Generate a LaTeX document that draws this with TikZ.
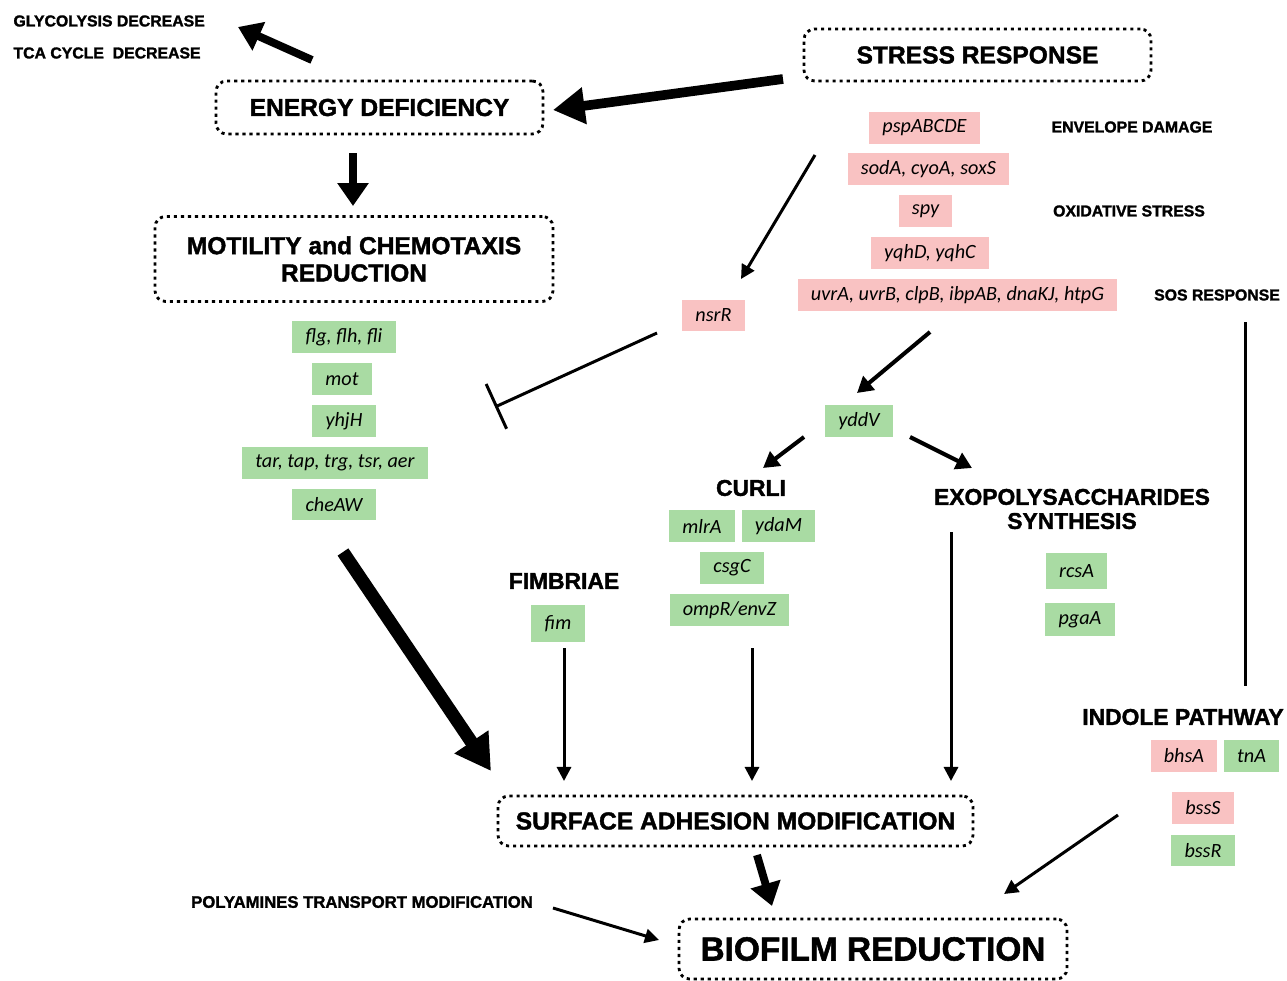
\documentclass[tikz,border=0pt]{standalone}
\usepackage{fontspec}
\setmainfont{Carlito}
\newfontfamily\headfont{Liberation Sans}[BoldFeatures={FakeBold=1.6}]
\usetikzlibrary{arrows.meta}

\begin{document}
\begin{tikzpicture}[x=0.02cm, y=-0.02cm, line width=1.7pt,
    stage/.style={draw, dash pattern=on 1.8pt off 2.2pt, line width=1.6pt, rounded corners=6pt,
      font=\headfont\bfseries\fontsize{14}{15.5}\selectfont, align=center, inner sep=0pt},
    head/.style={font=\headfont\bfseries\fontsize{13}{13.7}\selectfont, align=center, inner sep=0pt},
    note/.style={font=\headfont\bfseries\fontsize{9}{11}\selectfont, inner sep=0pt},
    gene/.style={font=\itshape\fontsize{11.5}{13}\selectfont, minimum height=18pt, inner xsep=7.5pt, inner ysep=0pt},
    upgene/.style={gene, fill=upcolor},
    downgene/.style={gene, fill=downcolor},
    link/.style={-{Triangle[length=8pt,width=8pt]}, line width=1.7pt},
    midlink/.style={-{Triangle[length=9pt,width=10pt]}, line width=2.3pt},
    boldlink/.style={-{Triangle[length=13pt,width=17pt]}, line width=4.5pt},
    biglink/.style={-{Triangle[length=18pt,width=20pt]}, line width=5.5pt},
    hugelink/.style={-{Triangle[length=20pt,width=22pt]}, line width=7.4pt}]
    \definecolor{upcolor}{RGB}{249,194,194}
    \definecolor{downcolor}{RGB}{169,219,163}

    \useasboundingbox (0,0) rectangle (1287,980);

    % boxes
    \node[stage, minimum width=6.54cm, minimum height=1.06cm] (energy) at (379.5,107.5) {ENERGY DEFICIENCY};
    \node[stage, minimum width=6.94cm, minimum height=1.04cm] (stress) at (977.5,55) {STRESS RESPONSE};
    \node[stage, minimum width=7.96cm, minimum height=1.7cm] (motility) at (354,259) {MOTILITY and CHEMOTAXIS\\REDUCTION};
    \node[stage, minimum width=9.5cm, minimum height=1.0cm] (surface) at (735.5,821) {SURFACE ADHESION MODIFICATION};
    \node[stage, minimum width=7.76cm, minimum height=1.2cm, font=\headfont\bfseries\fontsize{19}{21}\selectfont] (biofilm) at (873,949) {BIOFILM REDUCTION};

    \node[note, anchor=west] (glyco) at (12,21) {GLYCOLYSIS DECREASE};
    \node[note, anchor=west] (tca) at (12,53) {TCA CYCLE\ \ DECREASE};
    \node[note] (envelope) at (1132,127) {ENVELOPE DAMAGE};
    \node[note] (oxidative) at (1129,211) {OXIDATIVE STRESS};
    \node[note] (sos) at (1217,295) {SOS RESPONSE};
    \node[note, font=\headfont\bfseries\fontsize{9.5}{11}\selectfont] (polyamines) at (362,902) {POLYAMINES TRANSPORT MODIFICATION};

    \node[head] (curli) at (751,488) {CURLI};
    \node[head] (fimbriae) at (564,581) {FIMBRIAE};
    \node[head] (exo) at (1072,509) {EXOPOLYSACCHARIDES\\SYNTHESIS};
    \node[head] (indole) at (1183,717) {INDOLE PATHWAY};

    % genes
    \node[downgene] (flg) at (344,337) {flg, flh, fli};
    \node[downgene] (mot) at (342,379) {mot};
    \node[downgene] (yhjH) at (344,421) {yhjH};
    \node[downgene] (tar) at (335,463) {tar, tap, trg, tsr, aer};
    \node[downgene] (cheAW) at (334,504.5) {cheAW};

    \node[upgene] (psp) at (924.5,128) {pspABCDE};
    \node[upgene] (sod) at (928.5,169) {sodA, cyoA, soxS};
    \node[upgene] (spy) at (925.5,211) {spy};
    \node[upgene] (yqh) at (930,253) {yqhD, yqhC};
    \node[upgene] (uvr) at (957.5,295) {uvrA, uvrB, clpB, ibpAB, dnaKJ, htpG};
    \node[upgene] (nsrR) at (713.5,315.5) {nsrR};

    \node[downgene] (yddV) at (859,421) {yddV};
    \node[downgene] (mlrA) at (702,526) {mlrA};
    \node[downgene] (ydaM) at (778.5,526) {ydaM};
    \node[downgene] (csgC) at (732,568) {csgC};
    \node[downgene] (ompR) at (729.5,610) {ompR/envZ};
    \node[downgene, minimum height=21pt] (fim) at (558,623.5) {fim};
    \node[downgene, minimum height=20pt] (rcsA) at (1076.5,571) {rcsA};
    \node[downgene, minimum height=19pt] (pgaA) at (1080,619.5) {pgaA};

    \node[upgene] (bhsA) at (1184,756) {bhsA};
    \node[downgene] (tnA) at (1251.5,756) {tnA};
    \node[upgene] (bssS) at (1203,808) {bssS};
    \node[downgene] (bssR) at (1203,850.5) {bssR};

    % connector ends
    \coordinate (glyco-s) at (312,60);
    \coordinate (glyco-e) at (238,27);
    \coordinate (stress-s) at (783,79);
    \coordinate (stress-e) at (553,110);
    \coordinate (energy-s) at (353,153);
    \coordinate (energy-e) at (353,206);
    \coordinate (nsr-s) at (815,155);
    \coordinate (nsr-e) at (741,279);
    \coordinate (block-s) at (657,333);
    \coordinate (block-e) at (495,407);
    \coordinate (yddv-s) at (930,332);
    \coordinate (yddv-e) at (857,393);
    \coordinate (curli-s) at (804,437);
    \coordinate (curli-e) at (763,468);
    \coordinate (exo-s) at (910,437);
    \coordinate (exo-e) at (972,468);
    \coordinate (mot-s) at (343,552);
    \coordinate (mot-e) at (491,771);
    \coordinate (fim-s) at (564,648);
    \coordinate (fim-e) at (564,781);
    \coordinate (csg-s) at (752,648);
    \coordinate (csg-e) at (752,781);
    \coordinate (eps-s) at (951,532);
    \coordinate (eps-e) at (951,781);
    \coordinate (sos-s) at (1245,322);
    \coordinate (sos-e) at (1245,686);
    \coordinate (ind-s) at (1118,815);
    \coordinate (ind-e) at (1004,894);
    \coordinate (sur-s) at (757,855);
    \coordinate (sur-e) at (772,906);
    \coordinate (pol-s) at (553,908);
    \coordinate (pol-e) at (659,940);

    \draw[boldlink] (glyco-s) -- (glyco-e);
    \draw[biglink] (stress-s) -- (stress-e);
    \draw[boldlink] (energy-s) -- (energy-e);
    \draw[link] (nsr-s) -- (nsr-e);
    \draw[-{Bar[width=28pt]}] (block-s) -- (block-e);
    \draw[midlink] (yddv-s) -- (yddv-e);
    \draw[midlink] (curli-s) -- (curli-e);
    \draw[midlink] (exo-s) -- (exo-e);
    \draw[hugelink] (mot-s) -- (mot-e);
    \draw[link] (fim-s) -- (fim-e);
    \draw[link] (csg-s) -- (csg-e);
    \draw[link] (eps-s) -- (eps-e);
    \draw (sos-s) -- (sos-e);
    \draw[link] (ind-s) -- (ind-e);
    \draw[boldlink] (sur-s) -- (sur-e);
    \draw[link] (pol-s) -- (pol-e);
\end{tikzpicture}
\end{document}
